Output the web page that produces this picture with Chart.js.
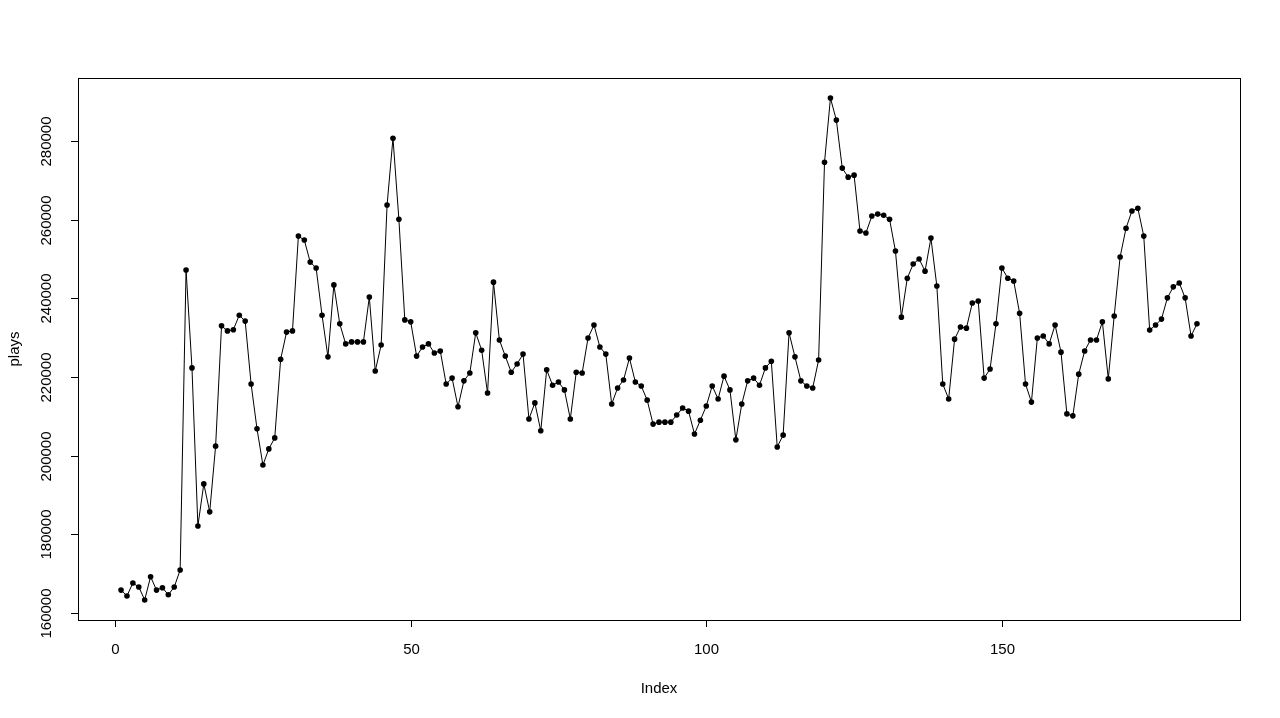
<!DOCTYPE html>
<html>
<head>
<meta charset="utf-8">
<script src="https://cdn.jsdelivr.net/npm/chart.js@4.4.1/dist/chart.umd.min.js"></script>
<style>
  html, body { margin:0; padding:0; background:#fff; }
  canvas { display:block; }
</style>
</head>
<body>
<canvas id="plot" width="1280" height="718"></canvas>
<script>
// daily plays (index 1..183)
const plays = [
  165800,164300,167600,166600,163300,169200,165800,166400,164600,166600,
  170900,247200,222300,182100,192800,185700,202400,233000,231700,232000,
  235700,234200,218200,206800,197600,201700,204500,224500,231400,231700,
  255800,254800,249200,247700,235700,225100,243400,233500,228400,228900,
  228900,228900,240300,221500,228100,263700,280700,260100,234500,234000,
  225300,227600,228400,226100,226600,218200,219700,212400,219000,221000,
  231200,226800,215900,244100,229400,225300,221200,223300,225800,209300,
  213400,206300,221800,217900,218700,216700,209300,221200,221000,229900,
  233200,227600,225800,213100,217200,219200,224800,218700,217700,214100,
  208000,208500,208500,208500,210300,212100,211300,205500,209000,212600,
  217700,214400,220200,216700,204000,213100,219000,219700,217900,222300,
  224000,202200,205200,231200,225100,219000,217700,217200,224300,274600,
  290900,285300,273100,270800,271300,257100,256600,260900,261400,261100,
  260100,252000,235200,245100,248700,250000,246900,255300,243100,218200,
  214400,229600,232700,232400,238800,239300,219700,222000,233500,247700,
  245100,244400,236200,218200,213600,229900,230400,228400,233200,226300,
  210600,210100,220700,226600,229400,229400,234000,219500,235500,250500,
  257800,262200,262900,255800,231900,233200,234700,240100,242900,243900,
  240100,230400,233500
];
const xTicks = [0, 50, 100, 150];
const yTicks = [160000, 180000, 200000, 220000, 240000, 260000, 280000];
const xLabel = 'Index';
const yLabel = 'plays';

const points = plays.map((v, i) => ({x: i + 1, y: v}));

// R-style 4% axis extension
function extend(lo, hi){ const d = (hi - lo) * 0.04; return [lo - d, hi + d]; }
const [xMin, xMax] = extend(1, plays.length);
const [yMin, yMax] = extend(Math.min(...plays), Math.max(...plays));

const FONT = '15px "Liberation Sans", Arial, sans-serif';

// draws the box, ticks and labels the way base R does
const rAxes = {
  id: 'rAxes',
  afterDraw(chart){
    const {ctx, chartArea: a, scales: {x, y}} = chart;
    ctx.save();
    ctx.strokeStyle = '#000';
    ctx.lineWidth = 1;
    ctx.strokeRect(Math.round(a.left) + 0.5, Math.round(a.top) + 0.5,
                   Math.round(a.right - a.left), Math.round(a.bottom - a.top));
    ctx.fillStyle = '#000';
    ctx.font = FONT;

    // x axis
    const xLineY = a.bottom + 0.5;
    ctx.beginPath();
    ctx.moveTo(x.getPixelForValue(xTicks[0]), xLineY);
    ctx.lineTo(x.getPixelForValue(xTicks[xTicks.length - 1]), xLineY);
    ctx.stroke();
    ctx.textAlign = 'center';
    ctx.textBaseline = 'middle';
    xTicks.forEach(t => {
      const px = Math.round(x.getPixelForValue(t)) + 0.5;
      ctx.beginPath();
      ctx.moveTo(px, a.bottom);
      ctx.lineTo(px, a.bottom + 7);
      ctx.stroke();
      ctx.fillText(String(t), px, a.bottom + 30);
    });

    // y axis
    const yLineX = a.left + 0.5;
    ctx.beginPath();
    ctx.moveTo(yLineX, y.getPixelForValue(yTicks[0]));
    ctx.lineTo(yLineX, y.getPixelForValue(yTicks[yTicks.length - 1]));
    ctx.stroke();
    yTicks.forEach(t => {
      const py = Math.round(y.getPixelForValue(t)) + 0.5;
      ctx.beginPath();
      ctx.moveTo(a.left, py);
      ctx.lineTo(a.left - 7, py);
      ctx.stroke();
      ctx.save();
      ctx.translate(a.left - 31, py);
      ctx.rotate(-Math.PI / 2);
      ctx.fillText(String(t), 0, 0);
      ctx.restore();
    });

    // axis titles
    ctx.fillText(xLabel, (a.left + a.right) / 2, a.bottom + 69);
    ctx.save();
    ctx.translate(a.left - 63, (a.top + a.bottom) / 2);
    ctx.rotate(-Math.PI / 2);
    ctx.fillText(yLabel, 0, 0);
    ctx.restore();
    ctx.restore();
  }
};

new Chart(document.getElementById('plot'), {
  type: 'line',
  data: {
    datasets: [{
      data: points,
      borderColor: '#000',
      borderWidth: 1,
      backgroundColor: '#000',
      pointRadius: 2.8,
      pointBorderWidth: 0,
      pointBackgroundColor: '#000',
      tension: 0,
      fill: false
    }]
  },
  options: {
    responsive: false,
    animation: false,
    events: [],
    layout: { padding: { left: 78, top: 78, right: 40, bottom: 98 } },
    plugins: { legend: { display: false }, tooltip: { enabled: false } },
    scales: {
      x: { type: 'linear', min: xMin, max: xMax, display: false },
      y: { type: 'linear', min: yMin, max: yMax, display: false }
    }
  },
  plugins: [rAxes]
});
</script>
</body>
</html>
